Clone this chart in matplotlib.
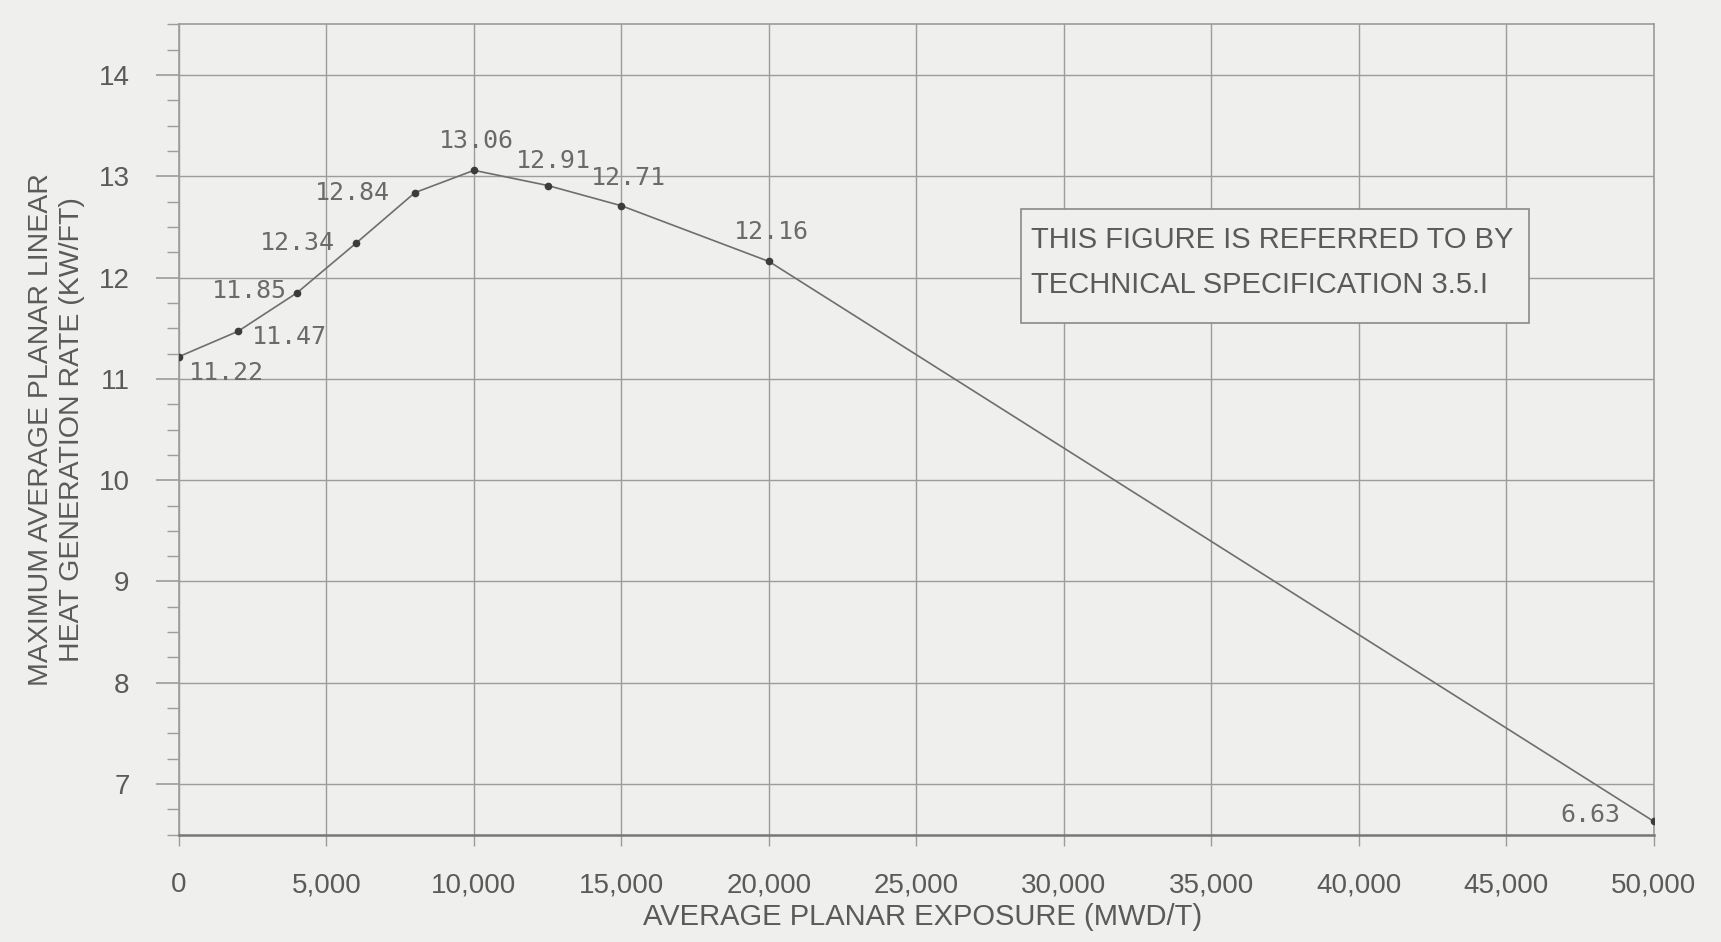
import numpy as np
import matplotlib
matplotlib.use('Agg')
from matplotlib import pyplot as plt
from matplotlib.patches import Rectangle
from matplotlib.ticker import MultipleLocator, FuncFormatter

# exposure (MWD/T) and MAPLHGR (KW/FT)
exposure = [0, 2000, 4000, 6000, 8000, 10000, 12500, 15000, 20000, 50000]
maplhgr = [11.22, 11.47, 11.85, 12.34, 12.84, 13.06, 12.91, 12.71, 12.16, 6.63]
point_labels = ['11.22', '11.47', '11.85', '12.34', '12.84', '13.06', '12.91', '12.71', '12.16', '6.63']
x_ticks = [0, 5000, 10000, 15000, 20000, 25000, 30000, 35000, 40000, 45000, 50000]
y_ticks = [7, 8, 9, 10, 11, 12, 13, 14]
note_lines = ['THIS FIGURE IS REFERRED TO BY', 'TECHNICAL SPECIFICATION 3.5.I']

# label offsets in points (dx, dy)
offsets = [(34, -12), (37, -4), (-34, 1), (-42, 0), (-45, 0),
           (2, 21), (4, 18), (5, 20), (2, 21), (-46, 5)]

bg = '#efefed'
txt = '#5a5a5a'
grid_c = '#9c9c9c'
font = 'Liberation Sans'

fig = plt.figure(figsize=(17.21, 9.42), dpi=100, facecolor=bg)
ax = fig.add_axes([0.104, 0.114, 0.857, 0.860], facecolor=bg)

ax.plot(exposure, maplhgr, '-', color='#6e6e6e', lw=1.2, zorder=3)
ax.plot(exposure, maplhgr, 'o', color='#3c3c3c', ms=4.5, zorder=4)

for x, y, s, (dx, dy) in zip(exposure, maplhgr, point_labels, offsets):
   ax.annotate(s, (x, y), xytext=(dx, dy), textcoords='offset points',
               ha='center', va='center', fontsize=18, color='#6a6a6a',
               family='DejaVu Sans Mono', zorder=5)

ax.set_xlim(0, 50000)
ax.set_ylim(6.5, 14.5)
ax.set_xticks(x_ticks)
ax.set_yticks(y_ticks)
ax.yaxis.set_minor_locator(MultipleLocator(0.25))
ax.xaxis.set_major_formatter(FuncFormatter(lambda v, p: '{:,.0f}'.format(v)))
ax.yaxis.set_major_formatter(FuncFormatter(lambda v, p: '%d' % v))
for lab in ax.get_xticklabels() + ax.get_yticklabels():
   lab.set_family(font)

ax.grid(True, which='major', color=grid_c, lw=1.0)
for s in ['top', 'right', 'left']:
   ax.spines[s].set_color(grid_c)
   ax.spines[s].set_linewidth(1.2)
ax.spines['bottom'].set_color('#777777')
ax.spines['bottom'].set_linewidth(1.8)

ax.tick_params(axis='x', which='major', direction='out', length=8, width=1.0,
               color=grid_c, pad=19, labelsize=20, labelcolor=txt)
ax.tick_params(axis='y', which='major', direction='out', length=16.5, width=1.2,
               color=grid_c, pad=19, labelsize=20, labelcolor=txt)
ax.tick_params(axis='y', which='minor', direction='out', length=8.4, width=1.0,
               color=grid_c)

ax.set_xlabel('AVERAGE PLANAR EXPOSURE (MWD/T)', fontsize=21, color=txt, family=font)
ax.xaxis.set_label_coords(0.504, -0.084)
ax.set_ylabel('MAXIMUM AVERAGE PLANAR LINEAR\nHEAT GENERATION RATE (KW/FT)',
              fontsize=20.5, color=txt, linespacing=1.25, family=font)
ax.yaxis.set_label_coords(-0.064, 0.5)

# note box
ax.add_patch(Rectangle((0.571, 0.632), 0.344, 0.140, transform=ax.transAxes,
                       facecolor=bg, edgecolor='#8a8a8a', lw=1.2, zorder=6))
for line, yy in zip(note_lines, [0.734, 0.678]):
   ax.text(0.578, yy, line, transform=ax.transAxes, ha='left', va='center',
           fontsize=21, color=txt, family=font, zorder=7)

fig.savefig('out.png', dpi=100, facecolor=bg)
